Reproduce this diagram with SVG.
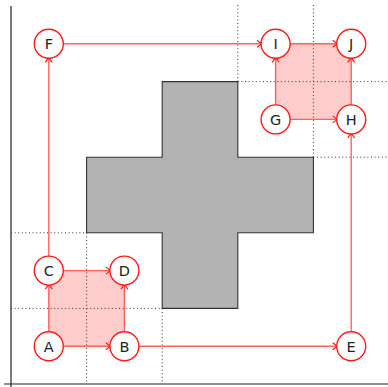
<svg xmlns="http://www.w3.org/2000/svg" width="388" height="387" viewBox="0 0 388 387">
  <defs>
    <style>
      .axis { stroke: #222; stroke-width: 1.2; fill: none; }
      .grid { stroke: #333; stroke-width: 1; stroke-dasharray: 1 2.6; fill: none; }
      .cross { fill: #b3b3b3; stroke: #333; stroke-width: 1.1; }
      .region { fill: #ffcccc; stroke: none; }
      .edge { stroke: #ff3030; stroke-opacity: 0.75; stroke-width: 1.4; fill: none; marker-end: url(#arrow); }
      .node circle { fill: #fff; stroke: #ff1a1a; stroke-width: 1.4; }
      .node text { font-family: "DejaVu Sans", sans-serif; font-size: 14.5px; fill: #222; text-anchor: middle; dominant-baseline: central; }
    </style>
    <marker id="arrow" markerUnits="userSpaceOnUse" markerWidth="10" markerHeight="10" viewBox="-6 -5 7 10" refX="0" refY="0" orient="auto">
      <path d="M-4.5,-3.5 L0,0 L-4.5,3.5" fill="none" stroke="#ff1a1a" stroke-width="1.2"/>
    </marker>
  </defs>

  <!-- axes -->
  <g id="axes">
    <line class="axis" x1="11" y1="6" x2="11" y2="387"/>
    <line class="axis" x1="4" y1="384" x2="388" y2="384"/>
  </g>

  <!-- obstacle -->
  <polygon id="obstacle" class="cross" points="162.2,81.6 237.8,81.6 237.8,157.2 313.4,157.2 313.4,232.8 237.8,232.8 237.8,308.4 162.2,308.4 162.2,232.8 86.6,232.8 86.6,157.2 162.2,157.2"/>

  <!-- shaded cells -->
  <g id="regions">
    <rect class="region" x="48.8" y="270.6" width="75.6" height="75.6"/>
    <rect class="region" x="275.6" y="43.8" width="75.6" height="75.6"/>
  </g>

  <!-- dotted guide lines -->
  <g id="guides">
    <line class="grid" x1="86.6" y1="232.8" x2="86.6" y2="384"/>
    <line class="grid" x1="162.2" y1="308.4" x2="162.2" y2="384"/>
    <line class="grid" x1="11" y1="232.8" x2="86.6" y2="232.8"/>
    <line class="grid" x1="11" y1="308.4" x2="162.2" y2="308.4"/>
    <line class="grid" x1="237.8" y1="5" x2="237.8" y2="81.6"/>
    <line class="grid" x1="313.4" y1="5" x2="313.4" y2="157.2"/>
    <line class="grid" x1="237.8" y1="81.6" x2="388" y2="81.6"/>
    <line class="grid" x1="313.4" y1="157.2" x2="388" y2="157.2"/>
  </g>

  <!-- connectors -->
  <g id="edges">
    <line class="edge" x1="62.8" y1="346.2" x2="110.4" y2="346.2"/>
    <line class="edge" x1="48.8" y1="332.2" x2="48.8" y2="284.6"/>
    <line class="edge" x1="124.4" y1="332.2" x2="124.4" y2="284.6"/>
    <line class="edge" x1="62.8" y1="270.6" x2="110.4" y2="270.6"/>
    <line class="edge" x1="138.4" y1="346.2" x2="337.2" y2="346.2"/>
    <line class="edge" x1="48.8" y1="256.6" x2="48.8" y2="57.8"/>
    <line class="edge" x1="62.8" y1="43.8" x2="261.6" y2="43.8"/>
    <line class="edge" x1="351.2" y1="332.2" x2="351.2" y2="133.4"/>
    <line class="edge" x1="289.6" y1="119.4" x2="337.2" y2="119.4"/>
    <line class="edge" x1="275.6" y1="105.4" x2="275.6" y2="57.8"/>
    <line class="edge" x1="351.2" y1="105.4" x2="351.2" y2="57.8"/>
    <line class="edge" x1="289.6" y1="43.8" x2="337.2" y2="43.8"/>
  </g>

  <!-- nodes -->
  <g id="A" class="node"><circle cx="48.8" cy="346.2" r="14.5"/><text x="48.8" y="346.7">A</text></g>
  <g id="B" class="node"><circle cx="124.4" cy="346.2" r="14.5"/><text x="124.4" y="346.7">B</text></g>
  <g id="C" class="node"><circle cx="48.8" cy="270.6" r="14.5"/><text x="48.8" y="271.1">C</text></g>
  <g id="D" class="node"><circle cx="124.4" cy="270.6" r="14.5"/><text x="124.4" y="271.1">D</text></g>
  <g id="E" class="node"><circle cx="351.2" cy="346.2" r="14.5"/><text x="351.2" y="346.7">E</text></g>
  <g id="F" class="node"><circle cx="48.8" cy="43.8" r="14.5"/><text x="48.8" y="44.3">F</text></g>
  <g id="G" class="node"><circle cx="275.6" cy="119.4" r="14.5"/><text x="275.6" y="119.9">G</text></g>
  <g id="H" class="node"><circle cx="351.2" cy="119.4" r="14.5"/><text x="351.2" y="119.9">H</text></g>
  <g id="I" class="node"><circle cx="275.6" cy="43.8" r="14.5"/><text x="275.6" y="44.3">I</text></g>
  <g id="J" class="node"><circle cx="351.2" cy="43.8" r="14.5"/><text x="351.2" y="44.3">J</text></g>
</svg>
